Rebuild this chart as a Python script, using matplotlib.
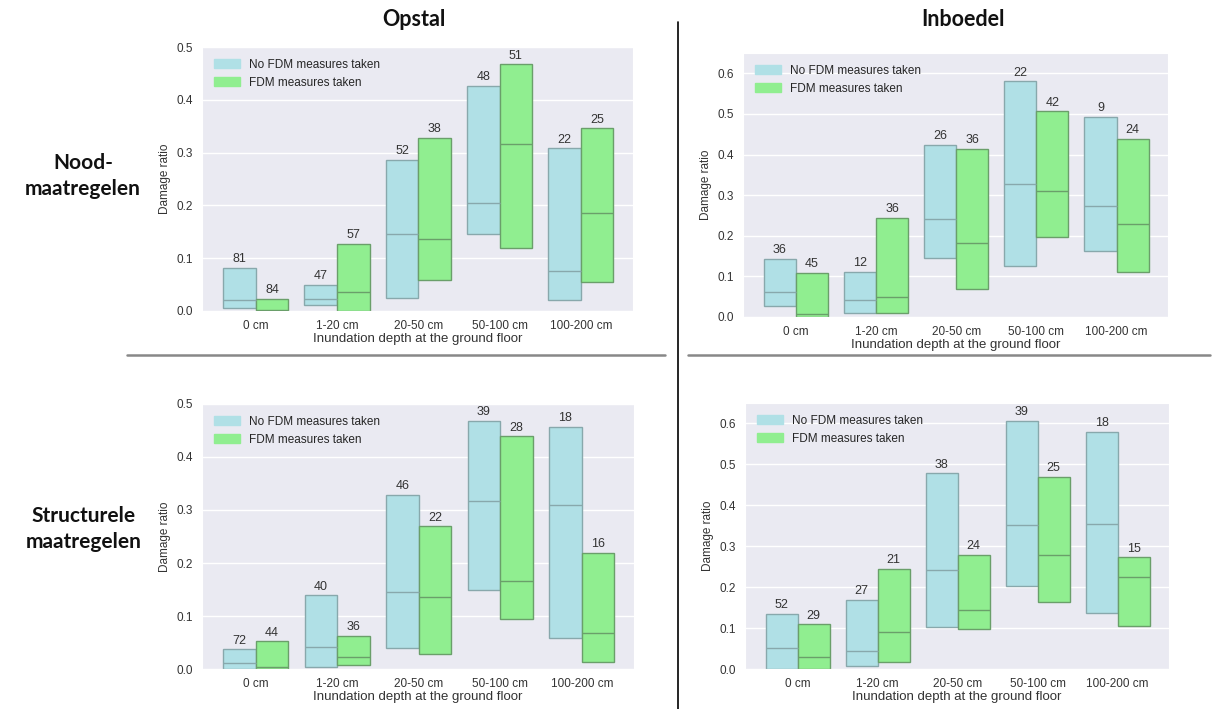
import numpy as np
import matplotlib.pyplot as plt
import seaborn as sns

sns.set_style('darkgrid')
plt.rcParams['font.family'] = ['Liberation Sans', 'DejaVu Sans']

depths = ['0 cm', '1-20 cm', '20-50 cm', '50-100 cm', '100-200 cm']
series_names = ['No FDM measures taken', 'FDM measures taken']

# Opstal / Noodmaatregelen: (low, median, high, n) per depth class
op_nood_no_low = [0.005, 0.011, 0.025, 0.145, 0.021]
op_nood_no_med = [0.021, 0.023, 0.145, 0.205, 0.076]
op_nood_no_high = [0.081, 0.049, 0.286, 0.426, 0.308]
op_nood_no_n = [81, 47, 52, 48, 22]
op_nood_yes_low = [0.0, 0.0, 0.059, 0.119, 0.054]
op_nood_yes_med = [0.002, 0.036, 0.137, 0.317, 0.185]
op_nood_yes_high = [0.023, 0.127, 0.328, 0.467, 0.346]
op_nood_yes_n = [84, 57, 38, 51, 25]

# Inboedel / Noodmaatregelen
in_nood_no_low = [0.028, 0.011, 0.146, 0.125, 0.163]
in_nood_no_med = [0.062, 0.041, 0.241, 0.328, 0.273]
in_nood_no_high = [0.143, 0.111, 0.424, 0.580, 0.493]
in_nood_no_n = [36, 12, 26, 22, 9]
in_nood_yes_low = [0.0, 0.011, 0.069, 0.198, 0.110]
in_nood_yes_med = [0.008, 0.048, 0.181, 0.309, 0.229]
in_nood_yes_high = [0.108, 0.244, 0.414, 0.506, 0.438]
in_nood_yes_n = [45, 36, 36, 42, 24]

# Opstal / Structurele maatregelen
op_str_no_low = [0.0, 0.003, 0.039, 0.149, 0.059]
op_str_no_med = [0.011, 0.042, 0.145, 0.317, 0.310]
op_str_no_high = [0.037, 0.139, 0.329, 0.468, 0.457]
op_str_no_n = [72, 40, 46, 39, 18]
op_str_yes_low = [0.0, 0.008, 0.028, 0.095, 0.013]
op_str_yes_med = [0.003, 0.023, 0.135, 0.166, 0.068]
op_str_yes_high = [0.052, 0.063, 0.269, 0.439, 0.219]
op_str_yes_n = [44, 36, 22, 28, 16]

# Inboedel / Structurele maatregelen
in_str_no_low = [0.0, 0.008, 0.103, 0.204, 0.137]
in_str_no_med = [0.051, 0.043, 0.242, 0.352, 0.354]
in_str_no_high = [0.134, 0.168, 0.478, 0.606, 0.580]
in_str_no_n = [52, 27, 38, 39, 18]
in_str_yes_low = [0.0, 0.018, 0.097, 0.164, 0.106]
in_str_yes_med = [0.029, 0.090, 0.144, 0.278, 0.225]
in_str_yes_high = [0.109, 0.245, 0.279, 0.469, 0.273]
in_str_yes_n = [29, 21, 24, 25, 15]

fills = ['#b0e0e6', '#90ee90']
edges = ['#88a8ac', '#6a9f6a']
bw = 0.4


def draw_panel(ax, groups, ymax, yticks):
    x = np.arange(len(depths))
    for k, (low, med, high, n) in enumerate(groups):
        pos = x + (k - 0.5) * bw
        low = np.array(low)
        high = np.array(high)
        ax.bar(pos, high - low, bottom=low, width=bw, color=fills[k],
               edgecolor=edges[k], linewidth=1.0, label=series_names[k], zorder=2)
        ax.hlines(med, pos - bw / 2, pos + bw / 2, color=edges[k], linewidth=1.0, zorder=3)
        for p, h, c in zip(pos, high, n):
            ax.annotate(str(c), (p, h), xytext=(0, 2), textcoords='offset points',
                        ha='center', va='bottom', fontsize=9, color='#333333')
    ax.set_xlim(-0.66, 4.64)
    ax.set_ylim(0, ymax)
    ax.set_yticks(yticks)
    ax.set_xticks(x)
    ax.set_xticklabels(depths)
    ax.grid(axis='x', visible=False)
    ax.grid(axis='y', color='white', linewidth=1.0)
    ax.tick_params(labelsize=8.5, colors='#333333', pad=3)
    ax.set_xlabel('Inundation depth at the ground floor', fontsize=9.5, color='#333333', labelpad=1)
    ax.set_ylabel('Damage ratio', fontsize=8.5, color='#333333', labelpad=4)
    handles = [plt.Rectangle((0, 0), 1, 1, color=c) for c in fills]
    ax.legend(handles, series_names, loc='upper left', frameon=False, fontsize=8.5,
              handlelength=2.2, handleheight=0.8, borderaxespad=0.6)


fig = plt.figure(figsize=(12.14, 7.09), dpi=100)
fig.patch.set_facecolor('white')

ax1 = fig.add_axes([0.1664, 0.5614, 0.355, 0.3723])
ax2 = fig.add_axes([0.612, 0.5529, 0.350, 0.3724])
ax3 = fig.add_axes([0.1664, 0.0564, 0.3558, 0.3738])
ax4 = fig.add_axes([0.6137, 0.0564, 0.349, 0.3752])

ticks5 = [0.0, 0.1, 0.2, 0.3, 0.4, 0.5]
ticks6 = [0.0, 0.1, 0.2, 0.3, 0.4, 0.5, 0.6]

draw_panel(ax1, [(op_nood_no_low, op_nood_no_med, op_nood_no_high, op_nood_no_n),
                 (op_nood_yes_low, op_nood_yes_med, op_nood_yes_high, op_nood_yes_n)], 0.5, ticks5)
draw_panel(ax2, [(in_nood_no_low, in_nood_no_med, in_nood_no_high, in_nood_no_n),
                 (in_nood_yes_low, in_nood_yes_med, in_nood_yes_high, in_nood_yes_n)], 0.65, ticks6)
draw_panel(ax3, [(op_str_no_low, op_str_no_med, op_str_no_high, op_str_no_n),
                 (op_str_yes_low, op_str_yes_med, op_str_yes_high, op_str_yes_n)], 0.5, ticks5)
draw_panel(ax4, [(in_str_no_low, in_str_no_med, in_str_no_high, in_str_no_n),
                 (in_str_yes_low, in_str_yes_med, in_str_yes_high, in_str_yes_n)], 0.65, ticks6)

# column and row headers
hdr = dict(fontsize=15.5, fontweight='bold', family=['Lato', 'DejaVu Sans'], color='#111111')
fig.text(414 / 1214, 1 - 20 / 709, 'Opstal', ha='center', va='center', **hdr)
fig.text(963 / 1214, 1 - 20 / 709, 'Inboedel', ha='center', va='center', **hdr)
rowhdr = dict(hdr, fontsize=15, linespacing=1.35)
fig.text(83 / 1214, 1 - 176 / 709, 'Nood-\nmaatregelen', ha='center', va='center', **rowhdr)
fig.text(84 / 1214, 1 - 529 / 709, 'Structurele\nmaatregelen', ha='center', va='center', **rowhdr)

# separators between the panels
fig.add_artist(plt.Line2D([678 / 1214, 678 / 1214], [0, 1 - 22 / 709], color='black', linewidth=1.2))
fig.add_artist(plt.Line2D([127 / 1214, 665 / 1214], [1 - 355 / 709] * 2, color='#888888', linewidth=1.8))
fig.add_artist(plt.Line2D([688 / 1214, 1210 / 1214], [1 - 355 / 709] * 2, color='#888888', linewidth=1.8))

fig.savefig('out.png', dpi=100, facecolor='white')
